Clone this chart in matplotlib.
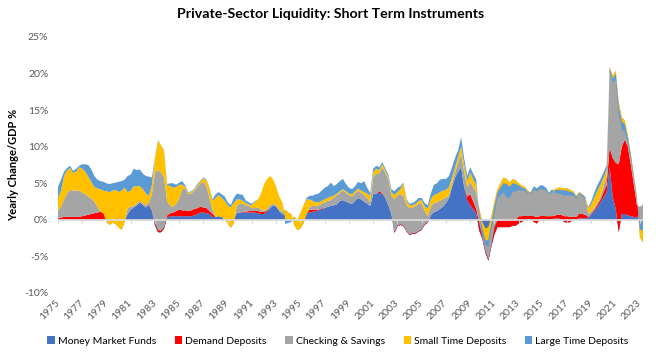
import numpy as np
import matplotlib
matplotlib.use("Agg")
import matplotlib.pyplot as plt
from matplotlib.patches import Patch

series_names = ["Money Market Funds", "Demand Deposits", "Checking & Savings",
                "Small Time Deposits", "Large Time Deposits"]
colors = ["#4472C4", "#FF0000", "#A5A5A5", "#FFC000", "#5B9BD5"]

start_year = 1975
tick_years = list(range(1975, 2024, 2))

# quarterly rows: (MMF, Demand, Checking&Savings, SmallTime, LargeTime), % of GDP
rows = [
    # 1975
    (0, .2, 1.1, 1.7, 1.5), (0, .3, 1.5, 2.2, 1.5), (0, .4, 2.4, 3.2, .6), (0, .4, 3.2, 3.2, .3),
    # 1976
    (0, .4, 3.7, 3.0, .3), (0, .4, 3.6, 2.4, .3), (0, .4, 3.6, 2.6, .4), (0, .4, 3.6, 3.2, .2),
    # 1977
    (0, .5, 3.2, 3.3, .6), (0, .6, 2.9, 3.1, 1.0), (0, .7, 2.5, 2.7, 1.6), (0, .8, 2.1, 2.3, 1.7),
    # 1978
    (0, .9, 1.6, 2.0, 1.5), (0, 1.0, .8, 2.5, 1.2), (0, 1.1, 0, 3.1, 1.1), (0, .9, 0, 3.1, 1.2),
    # 1979
    (0, 0, -.3, 4.2, 1.1), (0, 0, -.7, 4.5, 1.1), (0, 0, -.4, 4.4, 1.0), (0, 0, -.6, 4.7, 1.0),
    # 1980
    (0, 0, -1.0, 4.8, 1.4), (0, 0, -1.4, 5.4, 1.3), (0, 0, -.3, 4.7, 1.1), (.8, 0, .8, 2.2, 2.2),
    # 1981
    (1.4, 0, .4, 2.2, 2.2), (1.7, 0, .2, 2.7, 2.4), (2.0, 0, .2, 2.4, 2.2), (2.4, 0, .2, 2.0, 2.3),
    # 1982
    (2.0, 0, .3, 1.9, 2.1), (1.7, 0, .3, 1.6, 2.4), (2.0, .1, .3, .9, 2.6), (1.2, .1, 2.2, 1.3, 1.0),
    # 1983
    (-.8, .3, 7.0, 2.0, .1), (-1.7, .3, 8.2, 4.0, .1), (-1.7, .2, 8.0, 3.7, 0), (-1.2, .2, 6.8, 3.6, .1),
    # 1984
    (.3, .3, 2.0, 2.2, .1), (.5, .4, 1.0, 2.7, .4), (.5, .5, .8, 2.6, .6), (.5, .7, 1.0, 2.3, .3),
    # 1985
    (.5, .9, 1.5, 1.9, .3), (.5, .8, 2.9, .6, .5), (.5, .8, 3.0, .2, .2), (.5, .7, 2.3, .2, .1),
    # 1986
    (.5, .8, 2.3, .2, .1), (.6, .9, 2.5, .2, .1), (.8, .8, 2.9, .2, .2), (1.0, .8, 3.2, .3, .1),
    # 1987
    (1.0, .7, 3.5, .5, .1), (.9, .7, 3.0, .8, .1), (.8, .4, 1.8, 1.3, .1), (.4, .4, .6, 1.2, .2),
    # 1988
    (.4, 0, 0, 2.6, .5), (.5, 0, 0, 2.9, .4), (.4, 0, 0, 2.6, .5), (0, 0, 0, 2.6, .6),
    # 1989
    (0, 0, -.5, 2.5, .4), (0, 0, -1.1, 2.8, .3), (0, 0, -.5, 2.8, .7), (1.0, 0, .9, .9, .8),
    # 1990
    (1.0, 0, 1.2, .6, .7), (1.0, .1, 1.1, .4, .8), (1.0, .1, .9, .3, .3), (1.0, .2, .7, .2, .3),
    # 1991
    (1.0, .2, .4, .4, .2), (1.0, .3, .3, .9, .1), (.9, .3, .5, 1.1, 0), (.8, .3, .3, 2.2, 0),
    # 1992
    (.8, .3, .1, 3.7, 0), (1.2, .1, .2, 4.1, 0), (1.6, 0, .4, 4.0, 0), (2.0, 0, .2, 3.3, 0),
    # 1993
    (1.8, 0, .2, 2.5, 0), (1.2, 0, .2, 1.8, 0), (.8, 0, .2, 1.4, 0), (.5, .1, .8, -1.4, -.6),
    # 1994
    (.3, 0, .7, -1.0, -.4), (.2, 0, .6, -.8, -.3), (0, 0, -.8, 1.3, 0), (0, 0, -1.4, 1.4, 0),
    # 1995
    (0, 0, -1.2, 2.2, 0), (0, 0, -.5, 2.5, 0), (.8, 0, 0, 2.0, .2), (1.0, .4, .4, 1.0, .5),
    # 1996
    (1.1, .3, .5, .7, .7), (1.2, .2, .5, .5, 1.1), (1.3, .1, .6, .4, 1.2), (1.5, .1, .6, .4, 1.4),
    # 1997
    (1.6, 0, .8, .4, 1.6), (1.8, 0, .8, .4, 1.6), (1.9, 0, .8, .5, 1.9), (2.0, 0, 1.0, .3, 1.3),
    # 1998
    (2.1, 0, 1.3, .2, 1.3), (2.6, 0, 1.1, .2, 1.4), (2.7, 0, 1.3, .2, 1.4), (2.5, 0, 1.2, .2, 1.0),
    # 1999
    (2.3, 0, 1.1, .2, .8), (2.2, 0, 1.0, .3, .7), (2.6, 0, 1.0, .3, .7), (3.0, 0, 1.0, .3, .9),
    # 2000
    (2.8, 0, .9, .3, 1.0), (2.5, 0, .9, .4, 1.5), (2.2, 0, .8, .6, .8), (1.9, 0, .5, .9, .4),
    # 2001
    (3.5, 0, 2.4, .6, .5), (3.6, 0, 2.7, .7, .4), (3.7, .2, 2.5, .4, .4), (3.6, .1, 3.5, .4, .3),
    # 2002
    (3.0, 0, 3.4, .3, .3), (2.0, 0, 3.6, .3, .3), (.8, 0, 2.5, .5, .4), (-1.8, .2, 4.4, .6, .5),
    # 2003
    (-.9, .1, 4.2, .4, .6), (-.7, .1, 4.1, .7, .4), (-.9, .1, 4.1, 1.7, .1), (-1.6, .1, 3.5, .6, .2),
    # 2004
    (-2.1, .1, 3.6, .4, .2), (-1.9, .1, 3.5, .3, .3), (-1.9, .1, 3.7, .3, .4), (-1.6, .1, 3.7, .4, .4),
    # 2005
    (-1.4, .1, 3.5, .5, .3), (-.7, .1, 1.8, .6, .5), (-.4, .1, .8, 1.1, .4), (.6, 0, 1.2, 1.0, .8),
    # 2006
    (1.1, 0, 1.2, 1.1, 1.4), (1.2, 0, 1.2, 1.1, 1.5), (1.5, 0, 1.1, 1.2, 1.7), (1.8, 0, 1.1, 1.1, 1.6),
    # 2007
    (2.3, 0, .7, 1.1, 1.5), (3.0, 0, .4, 1.1, 1.5), (4.5, 0, .5, .8, 1.4), (5.8, 0, .7, .7, 1.3),
    # 2008
    (6.6, 0, 1.2, .8, .9), (7.2, 0, 1.8, 1.0, 1.3), (4.5, 0, 2.0, 1.1, .8), (2.7, .5, 1.3, .8, .7),
    # 2009
    (2.0, 1.5, 1.7, 1.3, .7), (1.5, 1.0, 2.0, 1.0, .8), (.8, .7, 2.3, 1.0, .7), (-1.5, 1.0, 2.0, -.5, -.3),
    # 2010
    (-2.6, .3, 2.0, -.9, -.8), (-4.5, .3, 3.0, -1.6, -.6), (-5.6, .2, 4.4, -1.8, -.9), (-3.6, .3, 3.8, -1.0, -.8),
    # 2011
    (-2.0, 1.0, 3.5, -.7, -.9), (-1.0, 1.0, 4.2, -.5, -.7), (-1.0, 1.0, 5.0, -.6, -1.0), (-1.0, 1.0, 5.8, -.8, -1.3),
    # 2012
    (-1.0, 1.0, 5.6, -.7, -1.8), (-1.0, 1.0, 5.1, -.6, -1.5), (-.8, 1.0, 5.4, -.6, -1.2), (-.8, .8, 5.4, -.5, -1.0),
    # 2013
    (-.5, 1.0, 4.5, -.3, -.6), (-.3, .8, 4.2, -.3, -.4), (0, .6, 3.9, -.2, -.3), (0, .5, 3.5, -.2, -.2),
    # 2014
    (.1, .5, 3.1, -.2, .3), (-.3, .8, 3.7, -.1, .5), (-.5, .9, 3.6, -.1, .4), (.1, .4, 3.8, -.1, .5),
    # 2015
    (.1, .5, 3.6, -.1, .6), (.1, .4, 3.6, -.1, .4), (.1, .4, 3.0, -.1, .3), (.1, .4, 3.4, -.1, .4),
    # 2016
    (.2, .4, 3.6, -.2, -.3), (.2, .5, 3.7, -.3, -.5), (.1, .6, 3.7, -.3, -.6), (-.3, .8, 3.8, -.3, -.7),
    # 2017
    (-.4, .9, 3.8, -.3, -.6), (-.3, .7, 3.7, -.3, -.5), (.1, .3, 3.5, -.2, -.4), (.1, .3, 2.9, -.2, -.2),
    # 2018
    (.2, .7, 2.9, -.1, -.1), (.2, .6, 2.7, -.1, -.2), (.2, .5, 2.4, 0, -.1), (.3, .1, .4, .8, .2),
    # 2019
    (.8, .1, .3, 1.0, .4), (1.2, .2, .3, 1.4, .7), (1.8, .3, .3, 1.6, .8), (2.4, .4, .4, 1.6, .8),
    # 2020
    (3.1, .7, .8, 1.2, .7), (3.8, 1.0, 1.2, .9, .6), (7.2, 2.7, 11.0, -.3, -.4), (3.2, 5.3, 11.2, -.4, -.5),
    # 2021
    (1.5, 6.3, 12.6, -.5, -.8), (-1.7, 9.3, 8.4, -.6, -.8), (.8, 9.2, 4.0, -.6, -1.1), (.8, 10.2, 2.6, -.6, -.9),
    # 2022
    (.6, 9.4, 1.5, -.4, -.6), (.5, 7.0, 1.5, -.3, -.4), (.4, 4.4, 1.2, -.2, -.3), (.3, 1.7, 1.1, -.1, -.1),
    # 2023
    (.8, .9, -4.1, 1.1, 1.3), (1.2, .9, -5.2, 1.6, 1.5),
]

money_market = [r[0] for r in rows]
demand_dep = [r[1] for r in rows]
checking_sav = [r[2] for r in rows]
small_time = [r[3] for r in rows]
large_time = [r[4] for r in rows]

x = start_year + 0.25 * np.arange(len(rows))

plt.rcParams['font.family'] = ['Lato', 'DejaVu Sans']

fig = plt.figure(figsize=(6.62, 3.53), dpi=100)
ax = fig.add_axes([58 / 662, 1 - 293 / 353, (643 - 58) / 662, (293 - 37) / 353])

ax.stackplot(x, money_market, demand_dep, checking_sav, small_time, large_time,
             colors=colors, linewidth=0, antialiased=True)

ax.axhline(0, color="#D9D9D9", lw=1.3, zorder=5)
ax.vlines(tick_years, -0.45, 0, color="#D9D9D9", lw=0.8, zorder=5)

ax.set_xlim(start_year, x[-1])
ax.set_ylim(-10, 25)
ax.set_yticks(range(-10, 26, 5))
ax.set_yticklabels([f"{v}%" for v in range(-10, 26, 5)], color="#595959", fontsize=7.5)
ax.set_xticks(tick_years)
ax.set_xticklabels([str(y) for y in tick_years], rotation=45, ha="right",
                   va="center", rotation_mode="anchor", color="#595959", fontsize=7.5)
ax.tick_params(axis="both", length=0)
ax.tick_params(axis="x", pad=6)
ax.tick_params(axis="y", pad=7)
for s in ax.spines.values():
    s.set_visible(False)

ax.set_ylabel("Yearly Change/GDP %", fontsize=8, fontweight="bold", labelpad=4)

fig.text(0.5, 1 - 14 / 353, "Private-Sector Liquidity: Short Term Instruments",
         ha="center", va="center", fontsize=10.2, fontweight="bold")

handles = [Patch(facecolor=c, edgecolor="none") for c in colors]
fig.legend(handles, series_names, loc="center", bbox_to_anchor=(338 / 662, 1 - 341 / 353),
           ncol=5, frameon=False, fontsize=7.5, handlelength=0.7, handleheight=0.7,
           handletextpad=0.3, columnspacing=1.8)

fig.savefig("out.png", dpi=100)
